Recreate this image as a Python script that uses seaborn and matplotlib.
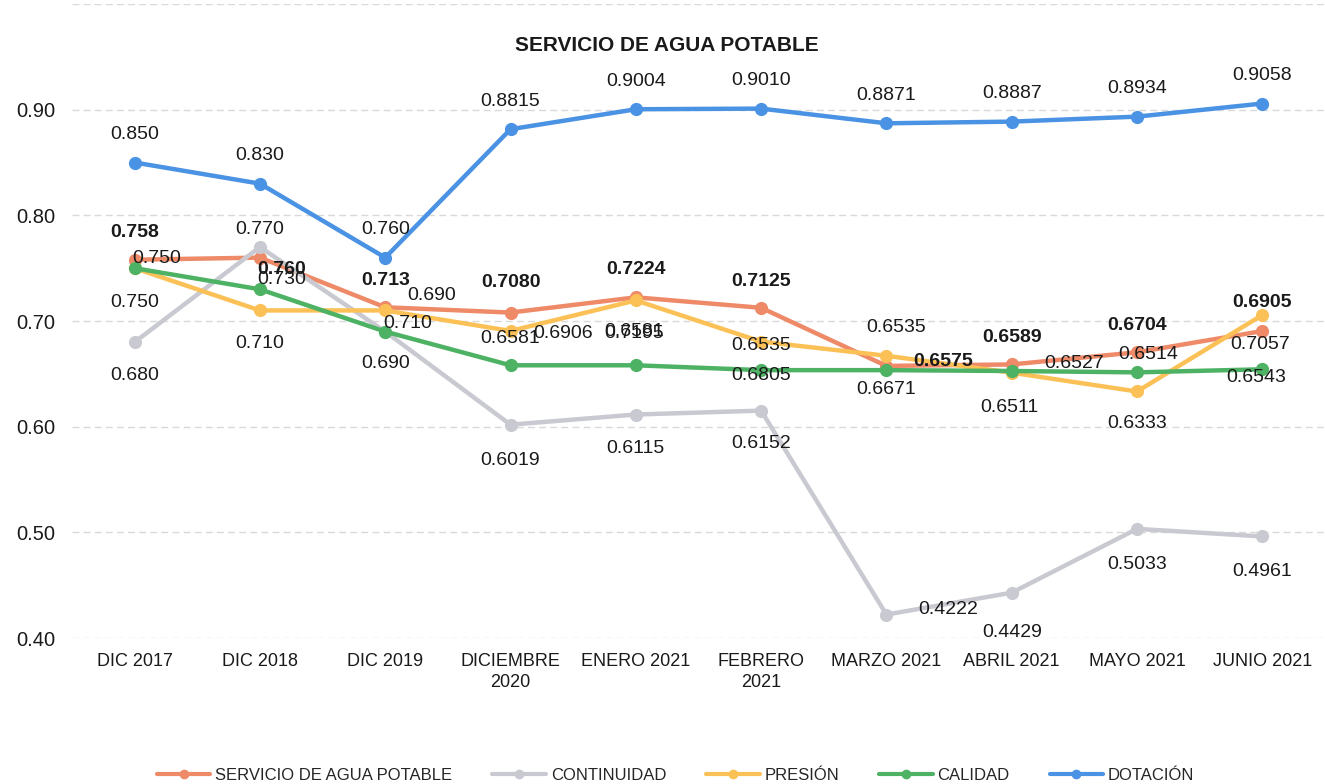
import pandas as pd
import numpy as np
import seaborn as sns
import matplotlib.pyplot as plt
from matplotlib.lines import Line2D

periodos = ["DIC 2017", "DIC 2018", "DIC 2019", "DICIEMBRE\n2020", "ENERO 2021",
            "FEBRERO\n2021", "MARZO 2021", "ABRIL 2021", "MAYO 2021", "JUNIO 2021"]

servicio = [0.758, 0.760, 0.713, 0.708, 0.7224, 0.7125, 0.6575, 0.6589, 0.6704, 0.6905]
continuidad = [0.680, 0.770, 0.690, 0.6019, 0.6115, 0.6152, 0.4222, 0.4429, 0.5033, 0.4961]
presion = [0.750, 0.710, 0.710, 0.6906, 0.7195, 0.6805, 0.6671, 0.6511, 0.6333, 0.7057]
calidad = [0.750, 0.730, 0.690, 0.6581, 0.6581, 0.6535, 0.6535, 0.6527, 0.6514, 0.6543]
dotacion = [0.850, 0.830, 0.760, 0.8815, 0.9004, 0.9010, 0.8871, 0.8887, 0.8934, 0.9058]

# etiquetas tal como aparecen en el grafico original
txt_servicio = ["0.758", "0.760", "0.713", "0.7080", "0.7224", "0.7125", "0.6575", "0.6589", "0.6704", "0.6905"]
txt_continuidad = ["0.680", "0.770", "0.690", "0.6019", "0.6115", "0.6152", "0.4222", "0.4429", "0.5033", "0.4961"]
txt_presion = ["0.750", "0.710", "0.690", "0.6906", "0.7195", "0.6805", "0.6671", "0.6511", "0.6333", "0.7057"]
txt_calidad = ["0.750", "0.730", "0.710", "0.6581", "0.6581", "0.6535", "0.6535", "0.6527", "0.6514", "0.6543"]
txt_dotacion = ["0.850", "0.830", "0.760", "0.8815", "0.9004", "0.9010", "0.8871", "0.8887", "0.8934", "0.9058"]

series = ["SERVICIO DE AGUA POTABLE", "CONTINUIDAD", "PRESIÓN", "CALIDAD", "DOTACIÓN"]
colores = ["#EE8A68", "#C9CAD1", "#FBC157", "#4DB263", "#4A92E3"]

# desplazamientos de etiquetas en pixeles (dx, dy)
off_servicio = [(0, 27), (22, -12), (0, 27), (0, 30), (0, 28), (0, 26), (57, 4), (0, 27), (0, 27), (0, 29)]
off_continuidad = [(0, -33), (0, 18), (0, -32), (0, -36), (0, -34), (0, -33), (62, 5), (0, -40), (0, -36), (0, -35)]
off_presion = [(0, -34), (0, -33), (46, 15), (53, -3), (-2, -33), (0, -34), (0, -34), (-2, -35), (0, -32), (-2, -30)]
off_calidad = [(22, 10), (22, 10), (22, 8), (0, 27), (-2, 34), (0, 25), (10, 43), (62, 7), (11, 18), (-6, -8)]
off_dotacion = [(0, 28)] * 10

valores = [servicio, continuidad, presion, calidad, dotacion]
textos = [txt_servicio, txt_continuidad, txt_presion, txt_calidad, txt_dotacion]
offsets = [off_servicio, off_continuidad, off_presion, off_calidad, off_dotacion]

df = pd.DataFrame({
    "periodo": periodos * len(series),
    "x": list(range(len(periodos))) * len(series),
    "serie": np.repeat(series, len(periodos)),
    "valor": np.concatenate(valores),
})

sns.set_theme(style="white")
plt.rcParams["font.family"] = ["Liberation Sans", "DejaVu Sans"]

fig = plt.figure(figsize=(13.25, 7.84), dpi=100)
ax = fig.add_axes([0.0543, 0.1862, 0.9457, 0.8087])

sns.lineplot(data=df, x="x", y="valor", hue="serie", hue_order=series,
             palette=colores, marker="o", markersize=9.5, markeredgewidth=0,
             linewidth=3.2, sort=False, legend=False, ax=ax)

for vals, txts, offs, serie in zip(valores, textos, offsets, series):
    peso = "bold" if serie == series[0] else "normal"
    for i, (v, t, o) in enumerate(zip(vals, txts, offs)):
        ax.annotate(t, (i, v), xytext=o, textcoords="offset pixels",
                    ha="center", va="center", fontsize=14, fontweight=peso,
                    color="#1A1A1A")

ax.set_xlim(-0.5, len(periodos) - 0.5)
ax.set_ylim(0.4, 1.0)
ax.set_xticks(range(len(periodos)))
ax.set_xticklabels(periodos, fontsize=13, color="#1A1A1A", linespacing=1.3)
ax.set_yticks(np.arange(0.4, 1.01, 0.1))
ax.set_yticklabels(["0.40", "0.50", "0.60", "0.70", "0.80", "0.90", ""], fontsize=14.5, color="#1A1A1A")
ax.tick_params(axis="both", length=0)
ax.tick_params(axis="y", pad=12)
ax.tick_params(axis="x", pad=11)
ax.set_xlabel("")
ax.set_ylabel("")
ax.grid(axis="y", color="#D9D9D9", linestyle=(0, (5, 3)), linewidth=1)
sns.despine(ax=ax, left=True, bottom=True)

ax.text(0.475, 0.935, "SERVICIO DE AGUA POTABLE", transform=ax.transAxes,
        ha="center", va="center", fontsize=15, fontweight="bold", color="#1A1A1A")

handles = [Line2D([0], [0], color=c, linewidth=3, marker="o", markersize=7, markeredgewidth=0)
           for c in colores]
fig.legend(handles, series, loc="center", bbox_to_anchor=(0.51, 0.011), ncol=5,
           frameon=False, fontsize=12, handlelength=3.2, columnspacing=2.4, handletextpad=0.3)

fig.savefig("out.png", dpi=100)
